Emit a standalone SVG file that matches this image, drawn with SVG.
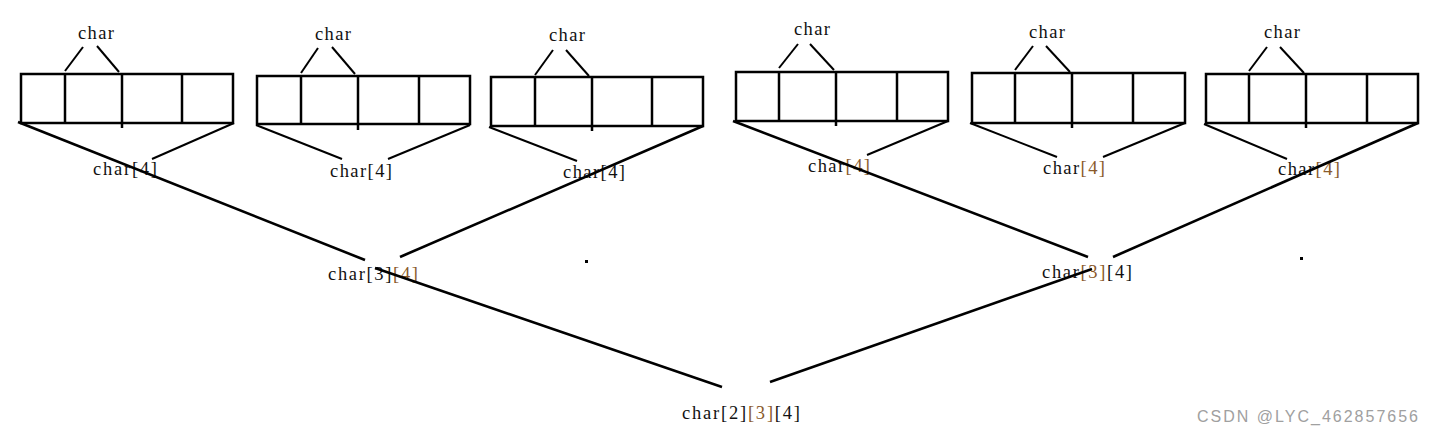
<svg xmlns="http://www.w3.org/2000/svg" width="1433" height="434" viewBox="0 0 1433 434">
<style>
.bx{fill:none;stroke:#000;stroke-width:2.5}
.dv{stroke:#000;stroke-width:2.5}
.ln{stroke:#000;stroke-width:2;fill:none}
.tk{stroke:#000;stroke-width:2.6;fill:none}
.t{font-family:"Liberation Serif",serif;font-size:18.5px;fill:#111}
.br{fill:#8a5a2b}
.wm{font-family:"Liberation Sans",Arial,sans-serif;font-size:16px;fill:#a0a0a0}
</style>
<rect width="1433" height="434" fill="#fff"/>
<g id="arr1">
<rect class="bx" x="21" y="74" width="212" height="49"/>
<line class="dv" x1="65" y1="74" x2="65" y2="123"/><line class="dv" x1="122" y1="74" x2="122" y2="128"/><line class="dv" x1="182" y1="74" x2="182" y2="123"/>
<line class="ln" x1="65" y1="71" x2="83" y2="47"/><line class="ln" x1="97" y1="46" x2="119" y2="72"/>
<text class="t" x="78" y="39" textLength="36">char</text>
</g>
<g id="arr2">
<rect class="bx" x="257" y="76" width="213" height="48"/>
<line class="dv" x1="301" y1="76" x2="301" y2="124"/><line class="dv" x1="358" y1="76" x2="358" y2="130"/><line class="dv" x1="419" y1="76" x2="419" y2="124"/>
<line class="ln" x1="301" y1="73" x2="318" y2="48"/><line class="ln" x1="332" y1="47" x2="355" y2="74"/>
<text class="t" x="315" y="40" textLength="36">char</text>
</g>
<g id="arr3">
<rect class="bx" x="491" y="77" width="212" height="49"/>
<line class="dv" x1="535" y1="77" x2="535" y2="126"/><line class="dv" x1="592" y1="77" x2="592" y2="131"/><line class="dv" x1="652" y1="77" x2="652" y2="126"/>
<line class="ln" x1="535" y1="75" x2="553" y2="50"/><line class="ln" x1="566" y1="50" x2="589" y2="76"/>
<text class="t" x="549" y="41" textLength="36">char</text>
</g>
<g id="arr4">
<rect class="bx" x="736" y="72" width="212" height="49"/>
<line class="dv" x1="779" y1="72" x2="779" y2="121"/><line class="dv" x1="836" y1="72" x2="836" y2="126"/><line class="dv" x1="897" y1="72" x2="897" y2="121"/>
<line class="ln" x1="779" y1="68" x2="798" y2="44"/><line class="ln" x1="810" y1="44" x2="834" y2="70"/>
<text class="t" x="794" y="35" textLength="36">char</text>
</g>
<g id="arr5">
<rect class="bx" x="972" y="73" width="213" height="50"/>
<line class="dv" x1="1015" y1="73" x2="1015" y2="123"/><line class="dv" x1="1072" y1="73" x2="1072" y2="128"/><line class="dv" x1="1133" y1="73" x2="1133" y2="123"/>
<line class="ln" x1="1015" y1="70" x2="1033" y2="46"/><line class="ln" x1="1046" y1="46" x2="1070" y2="72"/>
<text class="t" x="1029" y="38" textLength="36">char</text>
</g>
<g id="arr6">
<rect class="bx" x="1206" y="74" width="212" height="49"/>
<line class="dv" x1="1249" y1="74" x2="1249" y2="123"/><line class="dv" x1="1306" y1="74" x2="1306" y2="128"/><line class="dv" x1="1367" y1="74" x2="1367" y2="123"/>
<line class="ln" x1="1249" y1="71" x2="1267" y2="47"/><line class="ln" x1="1280" y1="47" x2="1304" y2="73"/>
<text class="t" x="1264" y="38" textLength="36">char</text>
</g>
<g id="lbl-c4-1"><text class="t" x="93" y="175" textLength="64">char[4]</text></g>
<g id="lbl-c4-2"><text class="t" x="330" y="177" textLength="62">char[4]</text></g>
<g id="lbl-c4-3"><text class="t" x="563" y="178" textLength="62">char[4]</text></g>
<g id="lbl-c4-4"><text class="t" x="808" y="172" textLength="62">char<tspan class="br">[4]</tspan></text></g>
<g id="lbl-c4-5"><text class="t" x="1043" y="174" textLength="62">char<tspan class="br">[4]</tspan></text></g>
<g id="lbl-c4-6"><text class="t" x="1278" y="175" textLength="62">char<tspan class="br">[4]</tspan></text></g>
<g id="lbl-c34-1"><text class="t" x="328" y="280" textLength="90">char[3]<tspan class="br">[4]</tspan></text></g>
<g id="lbl-c34-2"><text class="t" x="1042" y="278" textLength="90">char<tspan class="br">[3]</tspan>[4]</text></g>
<g id="lbl-c234"><text class="t" x="682" y="419" textLength="118">char[2]<tspan class="br">[3]</tspan>[4]</text></g>
<g id="connectors">
<line class="ln" x1="234" y1="123" x2="152" y2="159"/>
<line class="ln" x1="256" y1="125" x2="342" y2="159"/>
<line class="ln" x1="470" y1="125" x2="388" y2="159"/>
<line class="ln" x1="489" y1="127" x2="577" y2="161"/>
<line class="ln" x1="948" y1="121" x2="867" y2="155"/>
<line class="ln" x1="970" y1="123" x2="1057" y2="157"/>
<line class="ln" x1="1185" y1="123" x2="1103" y2="157"/>
<line class="ln" x1="1204" y1="124" x2="1287" y2="159"/>
<line class="tk" x1="18" y1="122" x2="365" y2="260"/>
<line class="tk" x1="703" y1="126" x2="400" y2="257"/>
<line class="tk" x1="375" y1="268" x2="722" y2="387"/>
<line class="tk" x1="733" y1="121" x2="1088" y2="257"/>
<line class="tk" x1="1418" y1="123" x2="1113" y2="257"/>
<line class="tk" x1="1092" y1="269" x2="770" y2="382"/>
</g>
<rect x="585" y="260" width="3" height="3" fill="#000"/>
<rect x="1300" y="257" width="3" height="3" fill="#000"/>
<text class="wm" x="1197" y="422" textLength="221">CSDN @LYC_462857656</text>
</svg>
